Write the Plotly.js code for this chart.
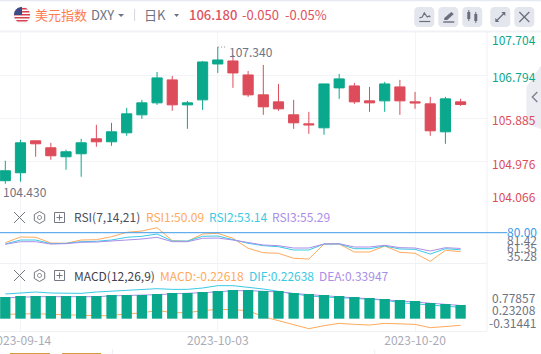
<!DOCTYPE html>
<html><head><meta charset="utf-8">
<script src="https://cdn.plot.ly/plotly-3.0.1.min.js"></script>
<style>html,body{margin:0;padding:0;background:#fff;overflow:hidden}#c{width:541px;height:354px}</style>
</head><body><div id="c"></div>
<script>
const dates=['2023-09-13','2023-09-14','2023-09-15','2023-09-18','2023-09-19','2023-09-20','2023-09-21','2023-09-22','2023-09-25','2023-09-26','2023-09-27','2023-09-28','2023-09-29','2023-10-02','2023-10-03','2023-10-04','2023-10-05','2023-10-06','2023-10-09','2023-10-10','2023-10-11','2023-10-12','2023-10-13','2023-10-16','2023-10-17','2023-10-18','2023-10-19','2023-10-20','2023-10-23','2023-10-24','2023-10-25'];
const open=[104.577,104.744,105.416,105.269,105.080,105.143,105.458,105.395,105.584,105.962,106.214,106.697,106.172,106.277,107.032,107.095,106.801,106.382,106.235,105.962,105.773,105.689,106.529,106.570,106.256,106.256,106.549,106.235,106.193,105.605,106.235];
const high=[104.996,105.437,105.416,105.374,105.227,105.458,105.752,105.794,106.109,106.277,106.864,106.780,106.256,107.095,107.389,107.221,106.885,107.011,106.612,106.277,106.025,106.612,106.822,106.634,106.549,106.655,106.697,106.445,106.340,106.340,106.298];
const low=[104.514,104.556,105.080,105.017,104.807,104.660,105.290,105.311,105.521,105.878,106.172,106.046,105.668,106.067,106.843,106.529,106.340,105.962,106.046,105.668,105.563,105.542,106.298,106.193,106.025,106.025,105.962,106.088,105.521,105.353,106.151];
const close=[104.786,105.374,105.353,105.101,105.185,105.374,105.395,105.605,105.983,106.214,106.739,106.172,106.214,107.074,107.116,106.843,106.382,106.130,106.088,105.794,105.752,106.612,106.718,106.235,106.214,106.612,106.256,106.214,105.626,106.298,106.180];
const rsi1=[64.5,73.6,73.1,64.0,63.5,68.8,69.3,74.1,81.1,83.2,88.5,67.7,66.7,78.4,79.5,71.5,55.5,48.5,47.5,39.5,38.4,62.4,62.4,49.6,49.6,59.2,49.1,47.5,34.7,52.3,50.09];
const rsi2=[62.4,68.8,68.8,62.9,63.5,66.1,66.7,68.8,73.1,74.7,78.4,67.2,67.2,74.7,75.2,69.9,63.5,59.7,58.1,52.8,52.8,62.4,62.4,54.9,54.9,59.2,54.4,53.9,46.4,54.9,53.14];
const rsi3=[61.9,66.1,66.1,62.4,62.9,65.1,65.6,66.7,68.8,70.4,73.1,66.1,66.1,71.5,72.0,68.8,64.5,60.8,59.7,56.0,56.0,62.4,62.9,57.6,57.6,60.3,56.5,56.0,51.2,56.5,55.29];
const macdBars=[.542,.567,.567,.567,.567,.567,.567,.592,.592,.592,.617,.642,.642,.667,.692,.717,.717,.692,.692,.642,.617,.592,.567,.542,.517,.492,.467,.442,.392,.367,.342];
const difLine=[.617,.65,.667,.642,.633,.633,.667,.692,.717,.742,.75,.733,.733,.767,.825,.825,.792,.742,.683,.617,.567,.542,.533,.508,.483,.467,.40,.375,.342,.308,.283];
const deaLine=[.52,.54,.55,.55,.55,.55,.55,.57,.58,.58,.60,.62,.63,.65,.67,.70,.70,.68,.67,.63,.60,.57,.55,.52,.50,.47,.45,.42,.38,.35,.33];
const macdLine=[.108,.117,.125,.108,.092,.083,.075,.075,.125,.142,.208,.15,.15,.2,.233,.225,.2,.05,-.05,-.158,-.25,-.175,-.117,-.142,-.158,-.117,-.133,-.142,-.225,-.192,-.167];
const dateTicks=['2023-09-14','2023-10-03','2023-10-20'];
const priceTicks=[107.704,106.794,105.885,104.976,104.066];
const priceLabels=['107.704','106.794','105.885','104.976','104.066'];
const rsiLabels=['80.00','81.42','61.35','35.28'];
const macdLabels=['0.77857','0.23208','-0.31441'];

const W=541,H=354,PW=486.7,FONT='"Noto Sans CJK SC","Noto Sans",sans-serif';
const GREEN='#0aa88c',RED='#dd4c5a',GRID='#f3f4f8',ORANGE='#ffaa5c',CYAN='#3cc9e4',PURPLE='#a98ee8',GRAY='#6f7382';
const px=x=>x/PW, py=y=>1-y/H;
const path=(pts,closed)=>'M'+pts.map(p=>px(p[0]).toFixed(5)+','+py(p[1]).toFixed(5)).join('L')+(closed?'Z':'');
const shapes=[],ann=[];
const line=(pts,color,w,dash)=>shapes.push({type:'path',xref:'paper',yref:'paper',path:path(pts),line:{color,width:w||1,dash:dash||'solid'}});
const poly=(pts,fill,lc,w)=>shapes.push({type:'path',xref:'paper',yref:'paper',path:path(pts,true),fillcolor:fill,line:{color:lc||fill,width:lc?(w||1):0}});
const arcPts=(cx,cy,r,a0,a1,n)=>Array.from({length:n+1},(_,i)=>{const a=a0+(a1-a0)*i/n;return [cx+r*Math.cos(a),cy+r*Math.sin(a)];});
const rrect=(x0,y0,x1,y1,r,fill)=>{const P=Math.PI;poly([...arcPts(x0+r,y0+r,r,P,1.5*P,5),...arcPts(x1-r,y0+r,r,1.5*P,2*P,5),...arcPts(x1-r,y1-r,r,0,.5*P,5),...arcPts(x0+r,y1-r,r,.5*P,P,5)],fill);};
const label=(t,x,y,color,anchor,size,extra)=>ann.push({text:t,xref:'paper',yref:'paper',x:px(x),y:py(y),xanchor:anchor||'left',yanchor:'middle',showarrow:false,borderpad:0,borderwidth:0,font:{family:FONT,size:size||12,color,...(extra||{})}});

line([[0,0.5],[541,0.5]],'#e6e9f4',1.5);
line([[0,31.5],[541,31.5]],'#f1f2f6',2);
line([[0,263.5],[PW,263.5]],'#f0f1f5',1);
line([[0,331.5],[PW,331.5]],'#f0f1f5',1);
line([[PW,32],[PW,331]],'#f0f1f5',1);

poly([[541,65],[526,87],[526,124],[541,129]],'#ecedf3');
line([[537,92],[532,97],[537,102]],'#7a7d8a',1.3);

const cx=22,cy=15,R=8;
poly(arcPts(cx,cy,R,0,2*Math.PI,32),'#ffffff','#d8d8dc',.5);
[[8,9.6],[11,12.6],[14,15.6],[17,18.6],[20,21.6]].forEach(([a,b])=>{const c=y=>Math.sqrt(Math.max(0,R*R-(y-cy)*(y-cy)));poly([[cx-c(a),a],[cx+c(a),a],[cx+c(b),b],[cx-c(b),b]],'#d8404e');});
poly([[cx,cy],...arcPts(cx,cy,R,Math.PI,1.5*Math.PI,10)],'#3c4a86');

poly([[118,14],[124,14],[121,17]],GRAY);
poly([[174,14],[179,14],[176.5,17]],GRAY);
line([[134.5,9],[134.5,21]],'#d5d7df',1);

[[414,434],[438,458],[462,482],[490,510],[514,534]].forEach(([a,b])=>rrect(a,7,b,27,4,'#e4e6ee'));
const IC='#6b6e7c';
line([[419,18],[422,17],[424,13],[427,17],[429,16],[430,17]],IC,1.2);line([[419,21.5],[430,21.5]],IC,1.2);
poly([[444,18],[451,12],[453.5,14],[447,20],[444,20]],IC);line([[443,22],[454,22]],IC,1.4);
poly([[467,12],[470,12],[470,19],[467,19]],IC);line([[468.5,10],[468.5,21]],IC,1);
poly([[474,14],[477,14],[477,21],[474,21]],IC);line([[475.5,12],[475.5,23]],IC,1);
line([[496,21],[504,13]],IC,1.2);poly([[501,12],[505,12],[505,16]],IC);poly([[495,18],[495,22],[499,22]],IC);
line([[519,12],[529,22]],IC,1.2);line([[529,12],[519,22]],IC,1.2);

label('美元指数',35,14.5,'#ff7b4c','left',13);
label('DXY',91,14.5,GRAY,'left',13);
label('日K',144,14.5,GRAY,'left',13);
label('106.180',189,14.5,'#df5261','left',13,{weight:500});
label('-0.050',242,14.5,'#df5261','left',13);
label('-0.05%',285,14.5,'#df5261','left',13);

function toolbar(y){
  const I='#73767f';
  line([[14,y-5.5],[25,y+5.5]],I,1);line([[25,y-5.5],[14,y+5.5]],I,1);
  const hex=arcPts(39.5,y,6,-Math.PI/2,1.5*Math.PI,6);
  shapes.push({type:'path',xref:'paper',yref:'paper',path:path(hex,true),line:{color:I,width:1}});
  shapes.push({type:'path',xref:'paper',yref:'paper',path:path(arcPts(39.5,y,2,0,2*Math.PI,12),true),line:{color:I,width:1}});
  shapes.push({type:'path',xref:'paper',yref:'paper',path:path([[54.5,y-5],[64.5,y-5],[64.5,y+5],[54.5,y+5]],true),line:{color:I,width:1}});
  line([[56.5,y],[62.5,y]],I,1);line([[59.5,y-3],[59.5,y+3]],I,1);
}
toolbar(217.5);toolbar(275.5);

label('RSI(7,14,21)',74,217,'#4b4e59');
label('RSI1:50.09',146,217,ORANGE);
label('RSI2:53.14',209,217,CYAN);
label('RSI3:55.29',272,217,PURPLE);
label('MACD(12,26,9)',74,275,'#3f424c');
label('MACD:-0.22618',160,275,ORANGE);
label('DIF:0.22638',249,275,CYAN);
label('DEA:0.33947',319,275,PURPLE);

const priceYs=[40,77,119.5,163,196];
priceLabels.forEach((t,i)=>label(t,535.5,priceYs[i],priceTicks[i]>106.18?GREEN:RED,'right'));
const rsiYs=[239.5,247.5,255.5];
rsiLabels.slice(1).forEach((t,i)=>label(t,537,rsiYs[i],'#6f7382','right'));
label(rsiLabels[0],537,232,'#3d9be9','right');
const macdYs=[297,309,322];
macdLabels.forEach((t,i)=>label(t,536,macdYs[i],'#6f7382','right'));

line([[0,232.7],[507,232.7]],'#3d9be9',1);

label('107.340',229,51.5,GRAY);
label('104.430',3,191,GRAY);
line([[218,47],[227,47]],'#8a8d98',1,'1px,2px');

line([[10,353.5],[50,353.5]],'#d69b3f',1);
line([[62,353.5],[101,353.5]],'#d69b3f',1);
line([[112.5,349],[112.5,354]],'#eeeff3',1);
line([[374.5,349],[374.5,354]],'#eeeff3',1);

const xbase={type:'category',categoryorder:'array',categoryarray:dates,range:[-0.349,31.74],showgrid:true,gridcolor:GRID,gridwidth:1,zeroline:false,showline:false,ticks:'',tickmode:'array',tickvals:dateTicks,fixedrange:true};
const traces=[
 {type:'candlestick',x:dates,open,high,low,close,xaxis:'x',yaxis:'y',whiskerwidth:0,
  increasing:{line:{color:GREEN,width:1},fillcolor:GREEN},decreasing:{line:{color:RED,width:1},fillcolor:RED}},
 {type:'scatter',mode:'lines',x:dates,y:rsi1,xaxis:'x2',yaxis:'y2',line:{color:ORANGE,width:1}},
 {type:'scatter',mode:'lines',x:dates,y:rsi2,xaxis:'x2',yaxis:'y2',line:{color:CYAN,width:1}},
 {type:'scatter',mode:'lines',x:dates,y:rsi3,xaxis:'x2',yaxis:'y2',line:{color:PURPLE,width:1}},
 {type:'scatter',mode:'lines',x:dates,y:macdLine,xaxis:'x3',yaxis:'y3',line:{color:ORANGE,width:1}},
 {type:'scatter',mode:'lines',x:dates,y:difLine,xaxis:'x3',yaxis:'y3',line:{color:CYAN,width:1}},
 {type:'scatter',mode:'lines',x:dates,y:deaLine,xaxis:'x3',yaxis:'y3',line:{color:PURPLE,width:1}},
 {type:'bar',x:dates,y:macdBars,xaxis:'x3',yaxis:'y3',marker:{color:GREEN,line:{width:0}},width:0.68,zorder:1}
];
const layout={
 width:W,height:H,margin:{l:0,r:W-PW,t:0,b:0,pad:0},paper_bgcolor:'#fff',plot_bgcolor:'#fff',showlegend:false,boxgap:0.33,boxgroupgap:0,
 font:{family:FONT,size:12},
 xaxis:{...xbase,anchor:'y',showticklabels:false,rangeslider:{visible:false}},
 xaxis2:{...xbase,anchor:'y2',showticklabels:false},
 xaxis3:{...xbase,anchor:'y3',showticklabels:true,ticktext:dateTicks,ticklabeloverflow:'allow',tickfont:{family:FONT,size:12,color:'#a9acb8'},ticklen:0,ticklabelstandoff:1},
 yaxis:{domain:[py(205),py(32)],range:[104.066,107.704],tickmode:'array',tickvals:priceTicks,showticklabels:false,showgrid:true,gridcolor:GRID,zeroline:false,fixedrange:true},
 yaxis2:{domain:[py(263),py(205)],range:[32,124.8],showticklabels:false,showgrid:false,zeroline:false,fixedrange:true},
 yaxis3:{domain:[py(331),py(263)],range:[-0.308,1.392],showticklabels:false,showgrid:false,zeroline:false,fixedrange:true},
 shapes,annotations:ann
};
Plotly.newPlot('c',traces,layout,{staticPlot:true,displayModeBar:false});
</script></body></html>
